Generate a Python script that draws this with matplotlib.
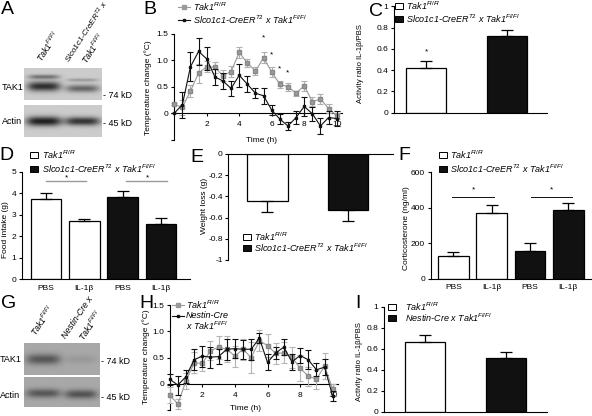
import numpy as np
import matplotlib
matplotlib.use("Agg")
import matplotlib.pyplot as plt
from matplotlib.lines import Line2D
from matplotlib.patches import Rectangle

plt.rcParams['font.family'] = ['Liberation Sans', 'DejaVu Sans']
plt.rcParams['mathtext.fontset'] = 'custom'
plt.rcParams['mathtext.rm'] = 'Liberation Sans'
plt.rcParams['mathtext.it'] = 'Liberation Sans:italic'

# ---------------- data ----------------
time_h = [0, 0.5, 1, 1.5, 2, 2.5, 3, 3.5, 4, 4.5, 5, 5.5, 6, 6.5, 7, 7.5, 8, 8.5, 9, 9.5, 10]

# Panel B
B_ctrl = [0.17, 0.11, 0.42, 0.76, 0.88, 0.87, 0.71, 0.79, 1.15, 0.95, 0.80, 1.05, 0.78, 0.55, 0.50, 0.38, 0.52, 0.22, 0.27, 0.09, -0.05]
B_ctrl_err = [0.02, 0.15, 0.12, 0.18, 0.10, 0.10, 0.10, 0.10, 0.10, 0.08, 0.08, 0.10, 0.10, 0.07, 0.08, 0.05, 0.10, 0.08, 0.10, 0.08, 0.05]
B_ko = [0.0, 0.16, 0.88, 1.17, 1.03, 0.69, 0.61, 0.47, 0.72, 0.55, 0.38, 0.33, 0.06, -0.11, -0.24, -0.08, 0.13, -0.01, -0.24, -0.08, -0.10]
B_ko_err = [0.0, 0.25, 0.27, 0.25, 0.22, 0.15, 0.15, 0.15, 0.22, 0.15, 0.10, 0.15, 0.10, 0.10, 0.07, 0.12, 0.18, 0.13, 0.15, 0.12, 0.15]
B_star_x = [5.5, 6.0, 6.5, 7.0]
B_star_y = [1.42, 1.11, 0.84, 0.76]

# Panel C
C_groups = ["Tak1 Fl/Fl", "Slco1c1-CreER T2 x Tak1 Fl/Fl"]
C_vals = [0.42, 0.72]
C_err = [0.07, 0.06]

# Panel D
D_labels = ["PBS", "IL-1β", "PBS", "IL-1β"]
D_vals = [3.72, 2.69, 3.83, 2.55]
D_err = [0.28, 0.12, 0.28, 0.31]

# Panel E
E_vals = [-0.44, -0.53]
E_err = [0.11, 0.105]

# Panel F
F_labels = ["PBS", "IL-1β", "PBS", "IL-1β"]
F_vals = [128, 369, 158, 388]
F_err = [23, 47, 44, 41]

# Panel H
H_ctrl = [-0.21, -0.38, 0.06, 0.40, 0.39, 0.63, 0.70, 0.66, 0.53, 0.66, 0.50, 0.82, 0.73, 0.58, 0.59, 0.51, 0.30, 0.15, 0.09, 0.34, -0.10]
H_ctrl_err = [0.15, 0.10, 0.15, 0.20, 0.15, 0.18, 0.22, 0.25, 0.20, 0.20, 0.30, 0.20, 0.22, 0.20, 0.20, 0.20, 0.25, 0.18, 0.18, 0.25, 0.10]
H_ko = [0.09, -0.02, 0.14, 0.46, 0.53, 0.51, 0.52, 0.66, 0.67, 0.66, 0.66, 0.87, 0.41, 0.59, 0.70, 0.42, 0.54, 0.46, 0.27, 0.32, -0.23]
H_ko_err = [0.10, 0.18, 0.12, 0.20, 0.20, 0.20, 0.15, 0.20, 0.18, 0.18, 0.20, 0.10, 0.15, 0.12, 0.15, 0.15, 0.15, 0.18, 0.12, 0.15, 0.10]

# Panel I
I_vals = [0.66, 0.51]
I_err = [0.065, 0.06]

# ---------------- helpers ----------------
W, Hh = 592, 416
fig = plt.figure(figsize=(W / 100, Hh / 100), dpi=100)
fig.patch.set_facecolor('white')

FS = 6.0      # ticks / axis labels
LFS = 6.5     # legend text
LW = 0.8
GRAY = '#9a9a9a'
BLACK = '#111111'


def add_ax(l, t, r, b):
    return fig.add_axes([l / W, 1 - b / Hh, (r - l) / W, (b - t) / Hh])


def ftext(x, y, s, **kw):
    kw.setdefault('fontsize', LFS)
    kw.setdefault('va', 'center')
    return fig.text(x / W, 1 - y / Hh, s, **kw)


def letter(x, y, s):
    ftext(x, y, s, fontsize=14, ha='center', va='center')


def box_legend(x, y, face):
    fig.patches.append(Rectangle((x / W, 1 - (y + 3) / Hh), 8 / W, 6 / Hh,
                                 transform=fig.transFigure, facecolor=face,
                                 edgecolor='black', linewidth=0.7))


def line_legend(x, y, color, mfc, ms):
    fig.lines.append(Line2D([x / W, (x + 12) / W], [1 - y / Hh] * 2, transform=fig.transFigure,
                            color=color, linewidth=0.8))
    fig.lines.append(Line2D([(x + 6) / W], [1 - y / Hh], transform=fig.transFigure,
                            color=color, marker='s', markersize=ms, markerfacecolor=mfc,
                            markeredgecolor=color, linewidth=0))


def style_ax(ax):
    for s in ['top', 'right']:
        ax.spines[s].set_visible(False)
    for s in ax.spines.values():
        s.set_linewidth(LW)
    ax.tick_params(labelsize=FS, length=2.5, width=LW, pad=1.5)


def blot(l, t, r, b, bg, bands):
    ax = add_ax(l, t, r, b)
    ny, nx = 60, 150
    yy, xx = np.mgrid[0:ny, 0:nx]
    img = np.full((ny, nx), bg, dtype=float)
    for (cx, cy, wx, wy, amp) in bands:
        img -= amp * np.exp(-((xx - cx) / wx) ** 4) * np.exp(-((yy - cy) / wy) ** 2)
    ax.imshow(np.clip(img, 0, 1), cmap='gray', vmin=0, vmax=1, aspect='auto',
              interpolation='bilinear')
    ax.set_xticks([])
    ax.set_yticks([])
    for s in ax.spines.values():
        s.set_visible(False)
    return ax


def rot_label(x, y, s, ang, fs=6.3):
    ftext(x, y, s, fontsize=fs, style='italic', rotation=ang,
          rotation_mode='anchor', ha='left', va='bottom')


# ---------------- Panel A ----------------
letter(7, 9, 'A')
blot(24, 68, 102, 100, 0.80, [(38, 16, 30, 4, 0.35), (38, 34, 32, 9, 0.62),
                              (112, 22, 30, 3, 0.2), (112, 38, 32, 7, 0.40)])
blot(24, 105, 102, 137, 0.80, [(38, 30, 34, 9, 0.68), (112, 30, 34, 8, 0.6)])
ftext(2, 88, 'TAK1', fontsize=6.5)
ftext(2, 121, 'Actin', fontsize=6.5)
ftext(103, 95, '- 74 kD', fontsize=6.5)
ftext(103, 123, '- 45 kD', fontsize=6.5)
rot_label(44, 64, r'Tak1$^{Fl/Fl}$', 57)
rot_label(72, 65, r'Slco1c1-CreER$^{T2}$ x', 57, fs=5.9)
rot_label(89, 66, r'Tak1$^{Fl/Fl}$', 57)

# ---------------- Panel B ----------------
letter(150, 9, 'B')
axB = add_ax(174.2, 34, 341.6, 139.7)
style_ax(axB)
axB.spines['bottom'].set_position(('data', 0))
axB.errorbar(time_h, B_ctrl, yerr=B_ctrl_err, color=GRAY, ecolor='#b0b0b0', elinewidth=0.8,
             capsize=2, capthick=0.8, marker='s', markersize=3.2, markerfacecolor='#9c9c9c',
             markeredgecolor='#888888', linewidth=0.8, clip_on=False, zorder=3)
axB.errorbar(time_h, B_ko, yerr=B_ko_err, color=BLACK, ecolor=BLACK, elinewidth=0.8,
             capsize=2, capthick=0.8, marker='s', markersize=2.0, linewidth=0.8,
             clip_on=False, zorder=4)
for sx, sy in zip(B_star_x, B_star_y):
    axB.text(sx, sy, '*', ha='center', va='center', fontsize=6)
axB.set_xlim(0, 10.3)
axB.set_ylim(-0.5, 1.5)
axB.set_xticks([2, 4, 6, 8, 10])
axB.set_yticks([-0.5, 0, 0.5, 1.0, 1.5])
axB.set_yticklabels(['', '0', '0.5', '1.0', '1.5'])
axB.tick_params(axis='x', pad=3)
ftext(262, 141, 'Time (h)', ha='center', fontsize=FS)
ftext(148, 88, 'Temperature change (°C)', rotation=90, ha='center', fontsize=FS)
line_legend(178, 7, GRAY, '#9c9c9c', 3.2)
ftext(193, 7, r'Tak1$^{Fl/Fl}$', style='italic')
line_legend(178, 20, BLACK, BLACK, 2.0)
ftext(193, 20, r'Slco1c1-CreER$^{T2}$ x Tak1$^{Fl/Fl}$', style='italic')

# ---------------- Panel C ----------------
letter(376, 12, 'C')
axC = add_ax(394, 6.2, 546.7, 112.7)
style_ax(axC)
axC.bar([0, 1], C_vals, width=0.5, color=['white', BLACK], edgecolor='black', linewidth=0.9)
axC.errorbar([0, 1], C_vals, yerr=[[0, 0], C_err], fmt='none', ecolor='black',
             elinewidth=0.9, capsize=4, capthick=0.9)
axC.text(0, 0.57, '*', ha='center', va='center', fontsize=6)
axC.set_xlim(-0.397, 1.49)
axC.set_ylim(0, 1)
axC.set_xticks([])
axC.set_yticks([0, 0.2, 0.4, 0.6, 0.8, 1.0])
axC.set_yticklabels(['0', '0.2', '0.4', '0.6', '0.8', '1'])
ftext(361, 64, 'Activity ratio IL-1β/PBS', rotation=90, ha='center', fontsize=5.5)
box_legend(395, 6, 'white')
ftext(406, 6, r'Tak1$^{Fl/Fl}$', style='italic')
box_legend(395, 19, BLACK)
ftext(406, 19, r'Slco1c1-CreER$^{T2}$ x Tak1$^{Fl/Fl}$', style='italic')

# ---------------- Panel D ----------------
letter(6, 155, 'D')
axD = add_ax(21.7, 171.7, 190, 279.2)
style_ax(axD)
xD = np.arange(len(D_vals))
axD.bar(xD, D_vals, width=0.8, color=['white', 'white', BLACK, BLACK], edgecolor='black',
        linewidth=0.9)
axD.errorbar(xD, D_vals, yerr=[[0] * 4, D_err], fmt='none', ecolor='black',
             elinewidth=0.9, capsize=4, capthick=0.9)
axD.plot([0.0, 1.05], [4.55, 4.55], color=GRAY, linewidth=1)
axD.plot([2.1, 3.15], [4.55, 4.55], color=GRAY, linewidth=1)
axD.text(0.55, 4.72, '*', ha='center', va='center', fontsize=6)
axD.text(2.65, 4.72, '*', ha='center', va='center', fontsize=6)
axD.set_xlim(-0.63, 3.76)
axD.set_ylim(0, 5)
axD.set_xticks(xD)
axD.set_xticklabels(D_labels)
axD.tick_params(axis='x', length=0, pad=4)
ftext(6, 230, 'Food intake (g)', rotation=90, ha='center', fontsize=FS)
box_legend(30, 155, 'white')
ftext(42, 155, r'Tak1$^{Fl/Fl}$', style='italic')
box_legend(30, 169, BLACK)
ftext(42, 169, r'Slco1c1-CreER$^{T2}$ x Tak1$^{Fl/Fl}$', style='italic')

# ---------------- Panel E ----------------
letter(197, 158, 'E')
axE = add_ax(228.3, 154, 393, 260)
for s in ['bottom', 'right']:
    axE.spines[s].set_visible(False)
for s in axE.spines.values():
    s.set_linewidth(LW)
axE.tick_params(labelsize=FS, length=2.5, width=LW, pad=1.5)
axE.bar([0, 1], E_vals, width=0.5, color=['white', BLACK], edgecolor='black', linewidth=0.9)
axE.errorbar([0, 1], E_vals, yerr=[E_err, [0, 0]], fmt='none', ecolor='black',
             elinewidth=0.9, capsize=4, capthick=0.9)
axE.set_xlim(-0.487, 1.56)
axE.set_ylim(-1, 0)
axE.set_xticks([])
axE.set_yticks([-1, -0.8, -0.6, -0.4, -0.2, 0])
axE.set_yticklabels(['-1', '-0.8', '-0.6', '-0.4', '-0.2', '0'])
ftext(205, 206, 'Weight loss (g)', rotation=90, ha='center', fontsize=FS)
box_legend(243, 237, 'white')
ftext(254, 237, r'Tak1$^{Fl/Fl}$', style='italic')
box_legend(243, 248, BLACK)
ftext(254, 248, r'Slco1c1-CreER$^{T2}$ x Tak1$^{Fl/Fl}$', style='italic')

# ---------------- Panel F ----------------
letter(404, 155, 'F')
axF = add_ax(430.7, 172.3, 592, 278.8)
style_ax(axF)
xF = np.arange(len(F_vals))
axF.bar(xF, F_vals, width=0.8, color=['white', 'white', BLACK, BLACK], edgecolor='black',
        linewidth=0.9)
axF.errorbar(xF, F_vals, yerr=[[0] * 4, F_err], fmt='none', ecolor='black',
             elinewidth=0.9, capsize=4, capthick=0.9)
axF.plot([-0.03, 1.07], [459, 459], color=BLACK, linewidth=0.7)
axF.plot([2.03, 3.1], [459, 459], color=BLACK, linewidth=0.7)
axF.text(0.52, 500, '*', ha='center', va='center', fontsize=6)
axF.text(2.57, 500, '*', ha='center', va='center', fontsize=6)
axF.set_xlim(-0.59, 3.62)
axF.set_ylim(0, 600)
axF.set_xticks(xF)
axF.set_xticklabels(F_labels)
axF.set_yticks([0, 200, 400, 600])
axF.tick_params(axis='x', length=0, pad=4)
ftext(407, 228, 'Corticosterone (ng/ml)', rotation=90, ha='center', fontsize=FS)
box_legend(439, 155, 'white')
ftext(450, 155, r'Tak1$^{Fl/Fl}$', style='italic')
box_legend(439, 169, BLACK)
ftext(450, 169, r'Slco1c1-CreER$^{T2}$ x Tak1$^{Fl/Fl}$', style='italic')

# ---------------- Panel G ----------------
letter(9, 303, 'G')
blot(24, 343, 100, 375, 0.66, [(38, 30, 34, 10, 0.32), (112, 30, 30, 8, 0.06)])
blot(24, 377, 100, 407, 0.66, [(38, 32, 34, 9, 0.32), (112, 34, 32, 9, 0.34)])
ftext(0, 359, 'TAK1', fontsize=6.5)
ftext(0, 395, 'Actin', fontsize=6.5)
ftext(101, 361, '- 74 kD', fontsize=6.5)
ftext(101, 397, '- 45 kD', fontsize=6.5)
rot_label(38, 338, r'Tak1$^{Fl/Fl}$', 56)
rot_label(68, 340, 'Nestin-Cre x', 56)
rot_label(86, 343, r'Tak1$^{Fl/Fl}$', 56)

# ---------------- Panel H ----------------
letter(146, 303, 'H')
axH = add_ax(169.7, 305, 337.6, 410.3)
style_ax(axH)
axH.spines['bottom'].set_position(('data', 0))
axH.errorbar(time_h, H_ctrl, yerr=H_ctrl_err, color=GRAY, ecolor='#b5b5b5', elinewidth=0.8,
             capsize=2, capthick=0.8, marker='s', markersize=3.2, markerfacecolor='#9c9c9c',
             markeredgecolor='#888888', linewidth=0.8, clip_on=False, zorder=3)
axH.errorbar(time_h, H_ko, yerr=H_ko_err, color=BLACK, ecolor=BLACK, elinewidth=0.8,
             capsize=2, capthick=0.8, marker='s', markersize=2.0, linewidth=0.8,
             clip_on=False, zorder=4)
axH.set_xlim(0, 10.3)
axH.set_ylim(-0.5, 1.5)
axH.set_xticks([2, 4, 6, 8, 10])
axH.set_yticks([-0.5, 0, 0.5, 1.0, 1.5])
axH.set_yticklabels(['', '0', '0.5', '1.0', '1.5'])
axH.tick_params(axis='x', pad=3)
ftext(245, 409, 'Time (h)', ha='center', fontsize=FS)
ftext(146, 357, 'Temperature change (°C)', rotation=90, ha='center', fontsize=FS)
line_legend(172, 305, GRAY, '#9c9c9c', 3.2)
ftext(186, 305, r'Tak1$^{Fl/Fl}$', style='italic')
line_legend(172, 316, BLACK, BLACK, 2.0)
ftext(186, 316, 'Nestin-Cre', style='italic')
ftext(186, 326, r'x Tak1$^{Fl/Fl}$', style='italic')

# ---------------- Panel I ----------------
letter(358, 303, 'I')
axI = add_ax(384, 306.5, 546.7, 411.5)
style_ax(axI)
axI.bar([0, 1], I_vals, width=0.5, color=['white', BLACK], edgecolor='black', linewidth=0.9)
axI.errorbar([0, 1], I_vals, yerr=[[0, 0], I_err], fmt='none', ecolor='black',
             elinewidth=0.9, capsize=4, capthick=0.9)
axI.set_xlim(-0.513, 1.508)
axI.set_ylim(0, 1)
axI.set_xticks([])
axI.set_yticks([0, 0.2, 0.4, 0.6, 0.8, 1.0])
axI.set_yticklabels(['0', '0.2', '0.4', '0.6', '0.8', '1'])
ftext(359, 362, 'Activity ratio IL-1β/PBS', rotation=90, ha='center', fontsize=5.5)
box_legend(388, 307, 'white')
ftext(405, 307, r'Tak1$^{Fl/Fl}$', style='italic')
box_legend(388, 318, BLACK)
ftext(405, 318, r'Nestin-Cre x Tak1$^{Fl/Fl}$', style='italic')

fig.savefig('out.png', dpi=100)
